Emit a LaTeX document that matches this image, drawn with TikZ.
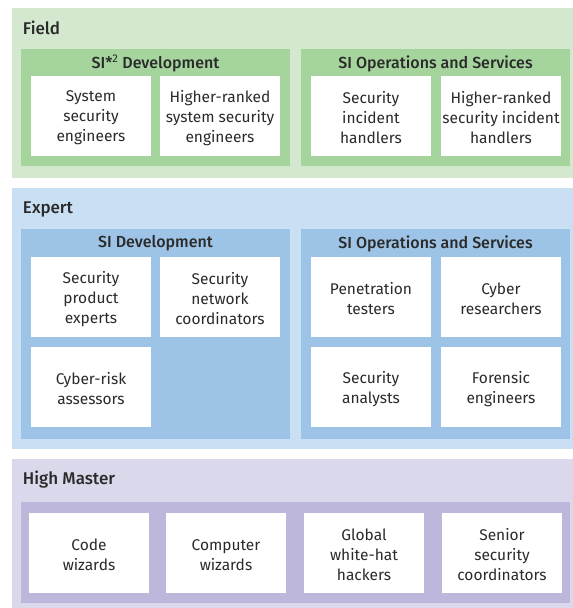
\documentclass[tikz,border=0pt]{standalone}
\usepackage{fontspec}
\setmainfont{Fira Sans}
\newfontfamily\medfont{Fira Sans Medium}
\definecolor{txt}{HTML}{2A2A2A}
\definecolor{fieldL}{HTML}{D3E8CE}
\definecolor{fieldD}{HTML}{A6D49D}
\definecolor{expL}{HTML}{C9DFF3}
\definecolor{expD}{HTML}{9DC3E6}
\definecolor{hmL}{HTML}{DAD9EB}
\definecolor{hmD}{HTML}{BCB7DB}
\begin{document}
\begin{tikzpicture}[x=1pt,y=-1pt,
  every node/.style={inner sep=0pt, outer sep=0pt, text=txt},
  area/.style={anchor=north west, fill=#1},
  wbox/.style={fill=white, minimum width=120pt, minimum height=80pt, align=center,
    font=\fontsize{15.5}{20}\selectfont},
  boxtext/.style={align=center, font=\fontsize{15.5}{20}\selectfont},
  tiertitle/.style={anchor=west, font=\fontsize{17}{20}\selectfont\medfont},
  subtitle/.style={font=\fontsize{16}{20}\selectfont\medfont}]
\useasboundingbox (0,0) rectangle (573,608);
% Field
\node[area=fieldL, minimum width=561pt, minimum height=170pt] (field) at (12,8) {};
\node[tiertitle] (fieldT) at (23,28) {Field};
\node[area=fieldD, minimum width=269pt, minimum height=117pt] (fdev) at (21,49) {};
\node[area=fieldD, minimum width=269pt, minimum height=117pt] (fops) at (301,49) {};
\node[subtitle] (fdevT) at (155.5,63.5) {SI*\textsuperscript{\normalfont 2} Development};
\node[subtitle] (fopsT) at (435.5,63.5) {SI Operations and Services};
\node[wbox] (f1) at (91,116) {};
\node[wbox] (f2) at (220,116) {};
\node[wbox] (f3) at (371,116) {};
\node[wbox] (f4) at (501,116) {};
\node[boxtext] at ([yshift=-2pt]f1.center) {System\\security\\engineers};
\node[boxtext] at ([yshift=-2pt]f2.center) {Higher-ranked\\system security\\engineers};
\node[boxtext] at ([yshift=-2pt]f3.center) {Security\\incident\\handlers};
\node[boxtext] at ([yshift=-2pt]f4.center) {Higher-ranked\\security incident\\handlers};
% Expert
\node[area=expL, minimum width=561pt, minimum height=261pt] (expert) at (12,188) {};
\node[tiertitle] (expertT) at (23,209) {Expert};
\node[area=expD, minimum width=269pt, minimum height=210pt] (edev) at (21,229) {};
\node[area=expD, minimum width=269pt, minimum height=210pt] (eops) at (301,229) {};
\node[subtitle] (edevT) at (155.5,243.5) {SI Development};
\node[subtitle] (eopsT) at (435.5,243.5) {SI Operations and Services};
\node[wbox] (e1) at (91,297) {};
\node[wbox] (e2) at (220,297) {};
\node[wbox] (e3) at (91,387) {};
\node[wbox] (e4) at (371,297) {};
\node[wbox] (e5) at (501,297) {};
\node[wbox] (e6) at (371,387) {};
\node[wbox] (e7) at (501,387) {};
\node[boxtext] at ([yshift=-2pt]e1.center) {Security\\product\\experts};
\node[boxtext] at ([yshift=-2pt]e2.center) {Security\\network\\coordinators};
\node[boxtext] at ([yshift=-2pt]e3.center) {Cyber-risk\\assessors};
\node[boxtext] at ([yshift=-2pt]e4.center) {Penetration\\testers};
\node[boxtext] at ([yshift=-2pt]e5.center) {Cyber\\researchers};
\node[boxtext] at ([yshift=-2pt]e6.center) {Security\\analysts};
\node[boxtext] at ([yshift=-2pt]e7.center) {Forensic\\engineers};
% High Master
\node[area=hmL, minimum width=561pt, minimum height=149pt] (hm) at (12,459) {};
\node[tiertitle] (hmT) at (23,480) {High Master};
\node[area=hmD, minimum width=549pt, minimum height=101pt] (hmin) at (21,502) {};
\node[wbox] (h1) at (89,553) {};
\node[wbox] (h2) at (226,553) {};
\node[wbox] (h3) at (364,553) {};
\node[wbox] (h4) at (502,553) {};
\node[boxtext] at ([yshift=-2pt]h1.center) {Code\\wizards};
\node[boxtext] at ([yshift=-2pt]h2.center) {Computer\\wizards};
\node[boxtext] at ([yshift=-2pt]h3.center) {Global\\white-hat\\hackers};
\node[boxtext] at ([yshift=-2pt]h4.center) {Senior\\security\\coordinators};
\end{tikzpicture}
\end{document}
